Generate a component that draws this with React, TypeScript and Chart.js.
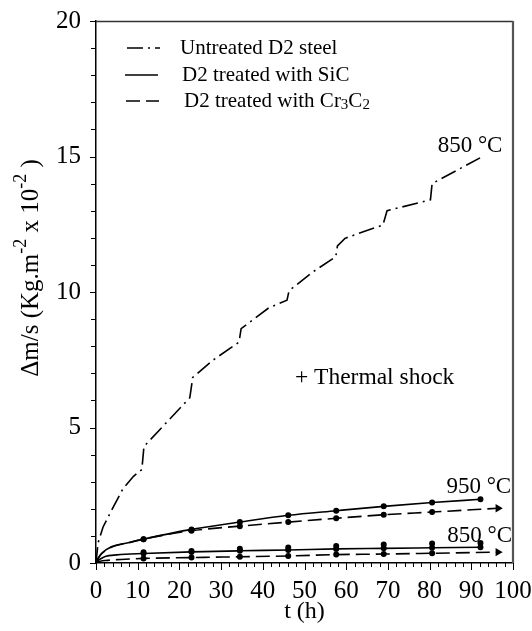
import React, { useEffect, useRef } from 'react';
import { Chart, registerables } from 'chart.js';
Chart.register(...registerables);

// Untreated D2 steel (850 °C + thermal shock)
const untreatedT = [0, 0.5, 1.7, 4.2, 6.5, 9, 11.0, 11.5, 17, 22.5, 23.2, 28.1, 34.3, 34.8, 41.3, 45.8, 46.3, 52.1, 57.5, 57.9, 59.7, 66.5, 68.8, 69.8, 80.2, 80.6, 92.1];
const untreatedV = [0, 0.75, 1.33, 2.08, 2.75, 3.2, 3.45, 4.3, 5.2, 6.1, 6.85, 7.49, 8.15, 8.65, 9.4, 9.7, 10.05, 10.75, 11.3, 11.7, 11.98, 12.35, 12.47, 13.0, 13.4, 14.0, 14.95];

// SiC 950 °C
const sic950T = [0, 1.3, 3.7, 7.7, 11.4, 22.9, 34.5, 46.1, 57.6, 69.0, 80.6, 92.2];
const sic950V = [0.05, 0.35, 0.6, 0.75, 0.88, 1.24, 1.51, 1.76, 1.93, 2.09, 2.23, 2.35];
// Cr3C2 950 °C
const cr950T = [0, 1.3, 3.7, 7.7, 11.4, 22.9, 34.5, 46.1, 57.6, 69.0, 80.6, 96.4];
const cr950V = [0.05, 0.33, 0.58, 0.74, 0.88, 1.19, 1.36, 1.51, 1.65, 1.78, 1.88, 2.02];
// SiC 850 °C
const sic850T = [0, 2.2, 5, 11.4, 22.9, 34.5, 46.1, 57.6, 69.0, 80.6, 92.2];
const sic850V = [0.05, 0.24, 0.3, 0.35, 0.41, 0.45, 0.48, 0.52, 0.54, 0.56, 0.58];
const sic850UpperT = [11.4, 22.9, 34.5, 46.1, 57.6, 69.0, 80.6, 92.2];
const sic850UpperV = [0.4, 0.44, 0.53, 0.57, 0.63, 0.68, 0.72, 0.74];
// Cr3C2 850 °C
const cr850T = [0, 2.2, 6, 11.4, 22.9, 34.5, 46.1, 57.6, 69.0, 80.6, 96.4];
const cr850V = [0.04, 0.09, 0.13, 0.17, 0.2, 0.23, 0.26, 0.31, 0.33, 0.36, 0.4];

const legendLabels = ['Untreated D2 steel', 'D2 treated with SiC', 'D2 treated with Cr3C2'];
const annotations = [
  { text: '850 °C', t: 89.7, v: 15.4 },
  { text: '950 °C', t: 91.8, v: 2.8 },
  { text: '850 °C', t: 92.0, v: 1.0 },
];
const shockLabel = { text: '+ Thermal shock', t: 47.7, v: 6.83 };
const xTickMax = 100;
const yTickMax = 20;

const FONT = "'Liberation Serif', 'Times New Roman', serif";

const pts = (t: number[], v: number[]) => t.map((x, i) => ({ x, y: v[i] }));
const radii = (t: number[]) => t.map((x) => (x >= 11 ? 2.2 : 0));
const arrowStyles = (t: number[]) => t.map((_, i) => (i === t.length - 1 ? 'triangle' : 'circle'));
const arrowRot = (t: number[]) => t.map((_, i) => (i === t.length - 1 ? 90 : 0));

const DASHDOT = [16, 5, 2, 5];
const DASH = [14, 6];

const drawPlugin = {
  id: 'decor',
  afterDraw(chart: any) {
    const ctx = chart.ctx as CanvasRenderingContext2D;
    const xs = chart.scales.x;
    const ys = chart.scales.y;
    const a = chart.chartArea;
    ctx.save();
    ctx.strokeStyle = '#000';
    ctx.lineWidth = 1;
    for (let v = 0; v <= yTickMax; v++) {
      const py = Math.round(ys.getPixelForValue(v)) + 0.5;
      const len = v % 5 === 0 ? 6 : 5;
      ctx.beginPath();
      ctx.moveTo(a.left - len, py);
      ctx.lineTo(a.left, py);
      ctx.stroke();
    }
    for (let t = 0; t <= xTickMax; t += 2) {
      const px = Math.round(xs.getPixelForValue(t)) + 0.5;
      const len = t % 10 === 0 ? 7 : 4;
      ctx.beginPath();
      ctx.moveTo(px, a.bottom);
      ctx.lineTo(px, a.bottom + len);
      ctx.stroke();
    }
    ctx.strokeStyle = '#333';
    ctx.lineWidth = 1.5;
    ctx.beginPath();
    ctx.moveTo(a.left, a.top + 0.5);
    ctx.lineTo(a.right, a.top + 0.5);
    ctx.stroke();
    ctx.strokeStyle = '#555';
    ctx.lineWidth = 2.2;
    ctx.beginPath();
    ctx.moveTo(a.right, a.top);
    ctx.lineTo(a.right, a.bottom);
    ctx.stroke();

    ctx.fillStyle = '#000';
    ctx.strokeStyle = '#000';
    // legend
    const rows = [a.top + 27, a.top + 54, a.top + 80];
    const styles = [DASHDOT, [], DASH];
    const sampleX = [a.left + 31, a.left + 29, a.left + 30];
    const textX = [a.left + 84, a.left + 86, a.left + 88];
    ctx.font = `21px ${FONT}`;
    ctx.textBaseline = 'middle';
    ctx.textAlign = 'left';
    for (let i = 0; i < 3; i++) {
      ctx.setLineDash(styles[i]);
      ctx.lineWidth = 1.6;
      ctx.beginPath();
      ctx.moveTo(sampleX[i], rows[i]);
      ctx.lineTo(sampleX[i] + 33, rows[i]);
      ctx.stroke();
      ctx.setLineDash([]);
      if (i < 2) {
        ctx.fillText(legendLabels[i], textX[i], rows[i]);
      } else {
        const base = 'D2 treated with Cr';
        let x = textX[i];
        ctx.font = `21px ${FONT}`;
        ctx.fillText(base, x, rows[i]);
        x += ctx.measureText(base).width;
        ctx.font = `15px ${FONT}`;
        ctx.fillText('3', x, rows[i] + 4);
        x += ctx.measureText('3').width;
        ctx.font = `21px ${FONT}`;
        ctx.fillText('C', x, rows[i]);
        x += ctx.measureText('C').width;
        ctx.font = `15px ${FONT}`;
        ctx.fillText('2', x, rows[i] + 4);
      }
    }
    // annotations
    ctx.font = `23px ${FONT}`;
    ctx.textAlign = 'center';
    for (const an of annotations) {
      ctx.fillText(an.text, xs.getPixelForValue(an.t), ys.getPixelForValue(an.v));
    }
    ctx.textAlign = 'left';
    ctx.font = `23.5px ${FONT}`;
    ctx.fillText(shockLabel.text, xs.getPixelForValue(shockLabel.t), ys.getPixelForValue(shockLabel.v));

    // x title
    ctx.textAlign = 'center';
    ctx.font = `24px ${FONT}`;
    ctx.fillText('t (h)', (a.left + a.right) / 2, 612);

    // y title rotated
    ctx.save();
    ctx.translate(31, 268);
    ctx.rotate(-Math.PI / 2);
    const parts: [string, boolean][] = [
      ['\u0394m/s (Kg.m', false],
      ['-2', true],
      [' x 10', false],
      ['-2', true],
      [' )', false],
    ];
    let total = 0;
    for (const [s, sup] of parts) {
      ctx.font = sup ? `18px ${FONT}` : `25px ${FONT}`;
      total += ctx.measureText(s).width;
    }
    let x = -total / 2;
    ctx.textAlign = 'left';
    for (const [s, sup] of parts) {
      ctx.font = sup ? `18px ${FONT}` : `25px ${FONT}`;
      ctx.fillText(s, x, sup ? -10 : 0);
      x += ctx.measureText(s).width;
    }
    ctx.restore();
    ctx.restore();
  },
};

export default function App() {
  const ref = useRef<HTMLCanvasElement>(null);
  useEffect(() => {
    if (!ref.current) return;
    const lineBase = {
      borderColor: '#000',
      backgroundColor: '#000',
      pointBackgroundColor: '#000',
      pointBorderColor: '#000',
      borderWidth: 1.6,
      fill: false,
    };
    const chart = new Chart(ref.current, {
      type: 'line',
      data: {
        datasets: [
          {
            ...lineBase,
            label: 'Untreated D2 steel',
            data: pts(untreatedT, untreatedV),
            borderDash: DASHDOT,
            pointRadius: 0,
            tension: 0,
          },
          {
            ...lineBase,
            label: 'SiC 950',
            data: pts(sic950T, sic950V),
            pointRadius: radii(sic950T),
            cubicInterpolationMode: 'monotone',
          },
          {
            ...lineBase,
            label: 'Cr3C2 950',
            data: pts(cr950T, cr950V),
            borderDash: DASH,
            pointRadius: radii(cr950T).map((r, i, arr) => (i === arr.length - 1 ? 3.2 : r)),
            pointStyle: arrowStyles(cr950T) as any,
            pointRotation: arrowRot(cr950T),
            cubicInterpolationMode: 'monotone',
          },
          {
            ...lineBase,
            label: 'SiC 850',
            data: pts(sic850T, sic850V),
            pointRadius: radii(sic850T),
            cubicInterpolationMode: 'monotone',
          },
          {
            ...lineBase,
            label: 'SiC 850 upper',
            data: pts(sic850UpperT, sic850UpperV),
            showLine: false,
            pointRadius: 2.2,
          },
          {
            ...lineBase,
            label: 'Cr3C2 850',
            data: pts(cr850T, cr850V),
            borderDash: DASH,
            pointRadius: radii(cr850T).map((r, i, arr) => (i === arr.length - 1 ? 3.2 : r)),
            pointStyle: arrowStyles(cr850T) as any,
            pointRotation: arrowRot(cr850T),
            cubicInterpolationMode: 'monotone',
          },
        ],
      },
      options: {
        animation: false,
        responsive: false,
        devicePixelRatio: 1,
        layout: { padding: { left: 0, top: 21, right: 19, bottom: 0 } },
        plugins: { legend: { display: false }, tooltip: { enabled: false } },
        scales: {
          x: {
            type: 'linear',
            min: 0,
            max: xTickMax,
            grid: { display: false, drawTicks: false },
            border: { display: true, color: '#000', width: 1.5 },
            ticks: {
              stepSize: 10,
              color: '#000',
              font: { family: FONT, size: 25 },
              padding: 13,
              maxRotation: 0,
              autoSkip: false,
            },
            afterFit: (s: any) => {
              s.height = 68;
              s.paddingLeft = 0;
              s.paddingRight = 0;
            },
          },
          y: {
            type: 'linear',
            min: 0,
            max: yTickMax,
            grid: { display: false, drawTicks: false },
            border: { display: true, color: '#000', width: 1.5 },
            ticks: {
              stepSize: 5,
              color: '#000',
              font: { family: FONT, size: 25 },
              padding: 15,
            },
            afterFit: (s: any) => {
              s.width = 96;
              s.paddingTop = 0;
              s.paddingBottom = 0;
            },
          },
        },
      },
      plugins: [drawPlugin],
    });
    return () => chart.destroy();
  }, []);
  return (
    <div style={{ position: 'fixed', left: 0, top: 0, width: 532, height: 631, background: '#fff' }}>
      <canvas ref={ref} width={532} height={631} />
    </div>
  );
}
